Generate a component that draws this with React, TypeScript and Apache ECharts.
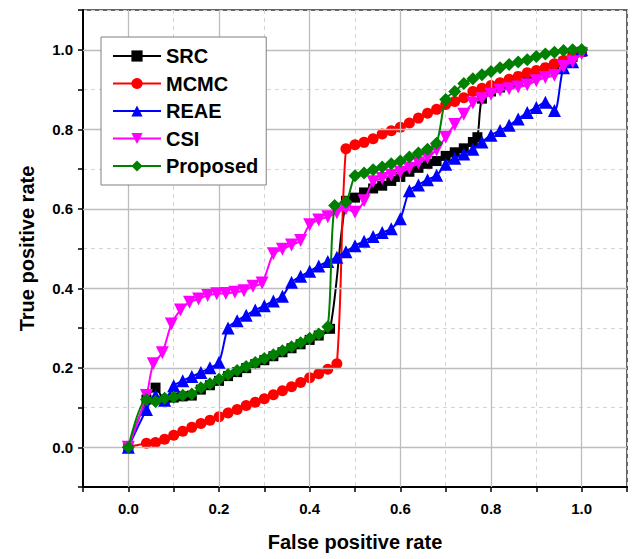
import React, { useEffect, useRef } from "react";
import * as echarts from "echarts";

const seriesNames = ["SRC", "MCMC", "REAE", "CSI", "Proposed"];
const seriesColors = ["#000000", "#ff0000", "#0000ff", "#ff00ff", "#008000"];

const srcX = [0, 0.04, 0.06, 0.08, 0.10, 0.12, 0.14, 0.16, 0.18, 0.20, 0.22, 0.24, 0.26, 0.28, 0.30, 0.32, 0.34, 0.36, 0.38, 0.40, 0.42, 0.445, 0.48, 0.50, 0.52, 0.54, 0.56, 0.58, 0.60, 0.62, 0.64, 0.66, 0.68, 0.70, 0.72, 0.74, 0.76, 0.77, 0.78, 0.80, 0.82, 0.84, 0.86, 0.88, 0.90, 0.92, 0.94, 0.96, 0.98, 1.0];
const srcY = [0, 0.12, 0.15, 0.12, 0.125, 0.128, 0.13, 0.145, 0.156, 0.167, 0.179, 0.189, 0.199, 0.209, 0.219, 0.229, 0.239, 0.249, 0.259, 0.27, 0.281, 0.298, 0.62, 0.628, 0.641, 0.651, 0.658, 0.67, 0.68, 0.693, 0.703, 0.713, 0.72, 0.733, 0.742, 0.752, 0.768, 0.78, 0.877, 0.895, 0.905, 0.913, 0.92, 0.93, 0.938, 0.948, 0.96, 0.97, 0.982, 0.995];

const mcmcX = [0, 0.04, 0.06, 0.08, 0.10, 0.12, 0.14, 0.16, 0.18, 0.20, 0.22, 0.24, 0.26, 0.28, 0.30, 0.32, 0.34, 0.36, 0.38, 0.40, 0.42, 0.44, 0.46, 0.48, 0.50, 0.52, 0.54, 0.56, 0.58, 0.60, 0.62, 0.64, 0.66, 0.68, 0.70, 0.72, 0.74, 0.76, 0.78, 0.80, 0.82, 0.84, 0.86, 0.88, 0.90, 0.92, 0.94, 0.96, 0.98, 1.0];
const mcmcY = [0, 0.01, 0.012, 0.02, 0.03, 0.04, 0.05, 0.06, 0.068, 0.077, 0.086, 0.095, 0.105, 0.113, 0.122, 0.132, 0.142, 0.152, 0.163, 0.175, 0.185, 0.196, 0.21, 0.751, 0.761, 0.767, 0.776, 0.788, 0.796, 0.805, 0.816, 0.828, 0.84, 0.85, 0.862, 0.87, 0.879, 0.895, 0.903, 0.91, 0.917, 0.926, 0.933, 0.942, 0.948, 0.955, 0.965, 0.973, 0.983, 0.995];

const reaeX = [0, 0.04, 0.06, 0.08, 0.10, 0.12, 0.14, 0.16, 0.18, 0.20, 0.22, 0.24, 0.26, 0.28, 0.30, 0.32, 0.34, 0.36, 0.38, 0.40, 0.42, 0.44, 0.46, 0.48, 0.50, 0.52, 0.54, 0.56, 0.58, 0.60, 0.62, 0.64, 0.66, 0.68, 0.70, 0.72, 0.74, 0.76, 0.78, 0.80, 0.82, 0.84, 0.86, 0.88, 0.90, 0.92, 0.94, 0.96, 0.98, 1.0];
const reaeY = [0, 0.095, 0.13, 0.118, 0.155, 0.167, 0.178, 0.188, 0.2, 0.214, 0.3, 0.318, 0.332, 0.345, 0.356, 0.368, 0.38, 0.415, 0.43, 0.443, 0.456, 0.467, 0.478, 0.492, 0.507, 0.518, 0.53, 0.54, 0.55, 0.575, 0.645, 0.66, 0.673, 0.684, 0.712, 0.727, 0.738, 0.75, 0.768, 0.785, 0.797, 0.81, 0.826, 0.842, 0.855, 0.868, 0.847, 0.955, 0.97, 1.0];

const csiX = [0, 0.04, 0.055, 0.075, 0.095, 0.115, 0.135, 0.155, 0.175, 0.195, 0.215, 0.235, 0.255, 0.275, 0.295, 0.32, 0.34, 0.36, 0.38, 0.40, 0.42, 0.44, 0.46, 0.48, 0.50, 0.52, 0.54, 0.56, 0.58, 0.60, 0.62, 0.64, 0.66, 0.68, 0.70, 0.72, 0.74, 0.76, 0.78, 0.80, 0.82, 0.84, 0.86, 0.88, 0.90, 0.92, 0.94, 0.96, 0.98, 1.0];
const csiY = [0, 0.13, 0.21, 0.238, 0.31, 0.345, 0.365, 0.373, 0.382, 0.386, 0.387, 0.39, 0.394, 0.405, 0.413, 0.487, 0.498, 0.509, 0.52, 0.56, 0.572, 0.58, 0.59, 0.6, 0.591, 0.62, 0.668, 0.676, 0.684, 0.692, 0.702, 0.715, 0.728, 0.748, 0.78, 0.812, 0.838, 0.866, 0.877, 0.888, 0.898, 0.902, 0.906, 0.912, 0.922, 0.93, 0.936, 0.958, 0.97, 0.99];

const propX = [0, 0.04, 0.06, 0.08, 0.10, 0.12, 0.14, 0.16, 0.18, 0.20, 0.22, 0.24, 0.26, 0.28, 0.30, 0.32, 0.34, 0.36, 0.38, 0.40, 0.42, 0.44, 0.455, 0.48, 0.50, 0.52, 0.54, 0.56, 0.58, 0.60, 0.62, 0.64, 0.66, 0.68, 0.70, 0.72, 0.74, 0.76, 0.78, 0.80, 0.82, 0.84, 0.86, 0.88, 0.90, 0.92, 0.94, 0.96, 0.98, 1.0];
const propY = [0, 0.12, 0.115, 0.123, 0.126, 0.131, 0.134, 0.15, 0.16, 0.171, 0.183, 0.193, 0.203, 0.213, 0.223, 0.233, 0.243, 0.253, 0.263, 0.274, 0.285, 0.303, 0.608, 0.617, 0.683, 0.69, 0.698, 0.705, 0.713, 0.72, 0.73, 0.74, 0.75, 0.765, 0.875, 0.895, 0.915, 0.927, 0.937, 0.945, 0.955, 0.963, 0.969, 0.975, 0.983, 0.989, 0.994, 0.998, 1.0, 1.0];

const majorTicks = [0, 0.2, 0.4, 0.6, 0.8, 1.0];

const xs = [srcX, mcmcX, reaeX, csiX, propX];
const ys = [srcY, mcmcY, reaeY, csiY, propY];
const symbols = ["rect", "circle", "triangle", "triangle", "diamond"];
const symbolSizes = [10, 11, 13, 13, 13];
const symbolRotates = [0, 0, 0, 180, 0];

const FONT = "'Liberation Sans', Arial, sans-serif";

export default function App() {
  const ref = useRef<HTMLDivElement>(null);
  useEffect(() => {
    if (!ref.current) return;
    const chart = echarts.init(ref.current, null, { renderer: "svg" });
    const fmt = (v: number) => {
      const r = Math.round(v * 10);
      if (r < 0 || r > 10 || r % 2 !== 0) return "";
      return (r / 10).toFixed(1);
    };
    const axisCommon = {
      type: "value" as const,
      min: -0.1,
      max: 1.1,
      interval: 0.1,
      axisLine: { show: true, onZero: false, lineStyle: { color: "#000", width: 2 } },
      axisTick: { show: true, inside: false, length: 5, lineStyle: { color: "#000", width: 1.5 } },
      axisLabel: {
        formatter: fmt,
        color: "#000",
        fontFamily: FONT,
        fontWeight: "bold" as const,
        fontSize: 15,
        showMinLabel: true,
        showMaxLabel: true,
      },
      splitLine: { show: true, lineStyle: { color: "#d4d4d4", type: [4, 4] as any, width: 1 } },
      nameLocation: "middle" as const,
      nameTextStyle: { color: "#000", fontFamily: FONT, fontWeight: "bold" as const, fontSize: 20 },
    };
    const lineSeries = seriesNames.map((name, i) => ({
      name,
      type: "line" as const,
      data: xs[i].map((x, j) => [x, ys[i][j]]),
      symbol: symbols[i],
      symbolSize: symbolSizes[i],
      symbolRotate: symbolRotates[i],
      smooth: 0.3,
      lineStyle: { color: seriesColors[i], width: 2 },
      itemStyle: { color: seriesColors[i] },
      z: 3 + i,
    }));
    const gridSeries = {
      name: "__grid",
      type: "line" as const,
      data: [],
      silent: true,
      z: 1,
      markLine: {
        silent: true,
        symbol: "none",
        label: { show: false },
        lineStyle: { color: "#bdbdbd", type: "solid" as const, width: 1.3 },
        data: [
          ...majorTicks.map((v) => ({ xAxis: v })),
          ...majorTicks.map((v) => ({ yAxis: v })),
        ],
      },
    };
    chart.setOption({
      animation: false,
      backgroundColor: "#fff",
      grid: {
        left: 83,
        top: 10,
        right: 6,
        bottom: 72,
        show: true,
        borderColor: "#333",
        borderWidth: 1.5,
        backgroundColor: "#fff",
      },
      legend: {
        data: seriesNames,
        orient: "vertical",
        left: 101,
        top: 37,
        width: 160,
        padding: [9, 8, 9, 11],
        itemGap: 7.5,
        itemWidth: 48,
        itemHeight: 14,
        backgroundColor: "#fff",
        borderColor: "#808080",
        borderWidth: 1,
        z: 20,
        textStyle: {
          color: "#000",
          fontFamily: FONT,
          fontWeight: "bold",
          fontSize: 20,
          lineHeight: 20,
        },
      },
      xAxis: {
        ...axisCommon,
        name: "False positive rate",
        nameGap: 45,
        axisLabel: { ...axisCommon.axisLabel, margin: 14 },
      },
      yAxis: {
        ...axisCommon,
        name: "True positive rate",
        nameGap: 46,
        axisLabel: { ...axisCommon.axisLabel, margin: 10 },
      },
      series: [gridSeries, ...lineSeries],
    });
    return () => chart.dispose();
  }, []);
  return <div ref={ref} style={{ width: 633, height: 559, position: "absolute", left: 0, top: 0 }} />;
}
